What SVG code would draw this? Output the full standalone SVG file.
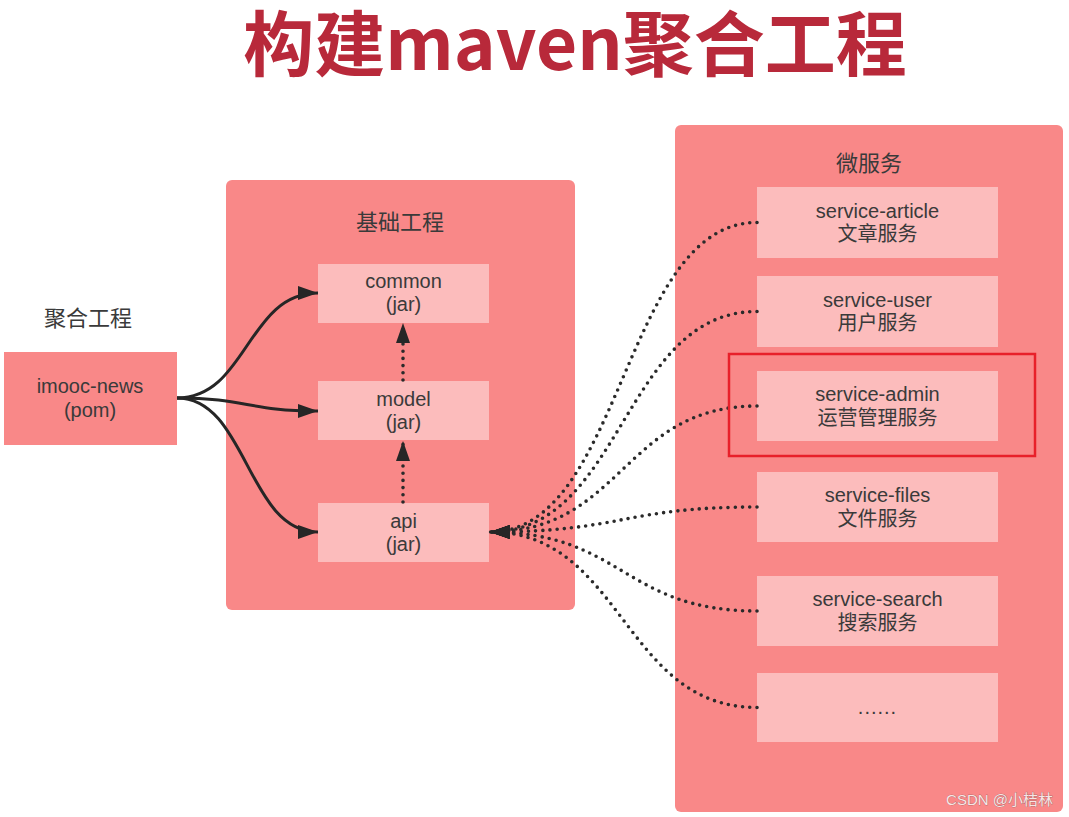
<svg xmlns="http://www.w3.org/2000/svg" width="1069" height="817" viewBox="0 0 1069 817">
  <defs>
    <marker id="arrow" markerUnits="userSpaceOnUse" viewBox="0 0 20 14" refX="20" refY="7" markerWidth="20" markerHeight="14" orient="auto">
      <path d="M0,0 L20,7 L0,14 z" fill="#262626"/>
    </marker>
  </defs>
  <style>
    .box { fill: #f98888; }
    .node { fill: #fcbcbc; }
    .lbl { font-family: "Liberation Sans", "Noto Sans CJK SC", sans-serif; font-size: 20px; fill: #3a3a3a; text-anchor: middle; }
    .sec { font-family: "Liberation Sans", "Noto Sans CJK SC", sans-serif; font-size: 22px; fill: #3a3a3a; text-anchor: middle; }
    .solid { fill: none; stroke: #262626; stroke-width: 3; marker-end: url(#arrow); }
    .dot { fill: none; stroke: #2a2a2a; stroke-width: 3.6; stroke-linecap: round; stroke-dasharray: 0 7.2; marker-end: url(#arrow); }
  </style>
  <rect width="1069" height="817" fill="#ffffff"/>

  <text x="575" y="70" font-family="'Noto Sans CJK SC', sans-serif" font-weight="bold" font-size="71" fill="#b8293a" text-anchor="middle">构建maven聚合工程</text>

  <g id="group-base">
    <rect class="box" x="226" y="180" width="349" height="430" rx="6"/>
    <text class="sec" x="400" y="230">基础工程</text>
  </g>
  <g id="group-micro">
    <rect class="box" x="675" y="125" width="388" height="687" rx="6"/>
    <text class="sec" x="869" y="171">微服务</text>
  </g>

  <g id="node-imooc">
    <text class="sec" x="88" y="326">聚合工程</text>
    <rect class="box" x="4" y="352" width="173" height="93"/>
    <text class="lbl" x="90" y="393">imooc-news</text>
    <text class="lbl" x="90" y="417">(pom)</text>
  </g>

  <g id="node-common">
    <rect class="node" x="318" y="264" width="171" height="59"/>
    <text class="lbl" x="403.5" y="288">common</text>
    <text class="lbl" x="403.5" y="311">(jar)</text>
  </g>
  <g id="node-model">
    <rect class="node" x="318" y="381" width="171" height="59"/>
    <text class="lbl" x="403.5" y="405.5">model</text>
    <text class="lbl" x="403.5" y="428.5">(jar)</text>
  </g>
  <g id="node-api">
    <rect class="node" x="318" y="503" width="171" height="59"/>
    <text class="lbl" x="403.5" y="527.5">api</text>
    <text class="lbl" x="403.5" y="550.5">(jar)</text>
  </g>

  <g id="node-article">
    <rect class="node" x="757" y="187" width="241" height="71"/>
    <text class="lbl" x="877.5" y="217.5">service-article</text>
    <text class="lbl" x="877.5" y="241">文章服务</text>
  </g>
  <g id="node-user">
    <rect class="node" x="757" y="276" width="241" height="71"/>
    <text class="lbl" x="877.5" y="306.5">service-user</text>
    <text class="lbl" x="877.5" y="330">用户服务</text>
  </g>
  <g id="node-admin">
    <rect class="node" x="757" y="371" width="241" height="70"/>
    <text class="lbl" x="877.5" y="401">service-admin</text>
    <text class="lbl" x="877.5" y="424.5">运营管理服务</text>
  </g>
  <g id="node-files">
    <rect class="node" x="757" y="472" width="241" height="70"/>
    <text class="lbl" x="877.5" y="502">service-files</text>
    <text class="lbl" x="877.5" y="525.5">文件服务</text>
  </g>
  <g id="node-search">
    <rect class="node" x="757" y="576" width="241" height="70"/>
    <text class="lbl" x="877.5" y="606">service-search</text>
    <text class="lbl" x="877.5" y="629.5">搜索服务</text>
  </g>
  <g id="node-more">
    <rect class="node" x="757" y="673" width="241" height="69"/>
    <text class="lbl" x="877.5" y="714" letter-spacing="1">......</text>
  </g>

  <g id="connectors">
    <path class="solid" d="M177,398 C247,398 247,293 318,293"/>
    <path class="solid" d="M177,398 C247,398 247,411 318,411"/>
    <path class="solid" d="M177,398 C247,398 247,532 318,532"/>
    <path class="dot" d="M403,380 L403,323"/>
    <path class="dot" d="M403,502 L403,441"/>
    <path class="dot" d="M757,222.5 C623,222.5 623,532 490,532"/>
    <path class="dot" d="M757,311.5 C623,311.5 623,532 490,532"/>
    <path class="dot" d="M757,406 C623,406 623,532 490,532"/>
    <path class="dot" d="M757,507 C623,507 623,532 490,532"/>
    <path class="dot" d="M757,611 C623,611 623,532 490,532"/>
    <path class="dot" d="M757,707.5 C623,707.5 623,532 490,532"/>
  </g>

  <rect id="highlight" x="729" y="354" width="306" height="102" fill="none" stroke="#e8202a" stroke-width="2.5"/>

  <text x="1053" y="805" font-family="'Liberation Sans', 'Noto Sans CJK SC', sans-serif" font-size="15" fill="#f6e6e6" stroke="#8a5050" stroke-width="0.5" paint-order="stroke" text-anchor="end">CSDN @小桔林</text>
</svg>
